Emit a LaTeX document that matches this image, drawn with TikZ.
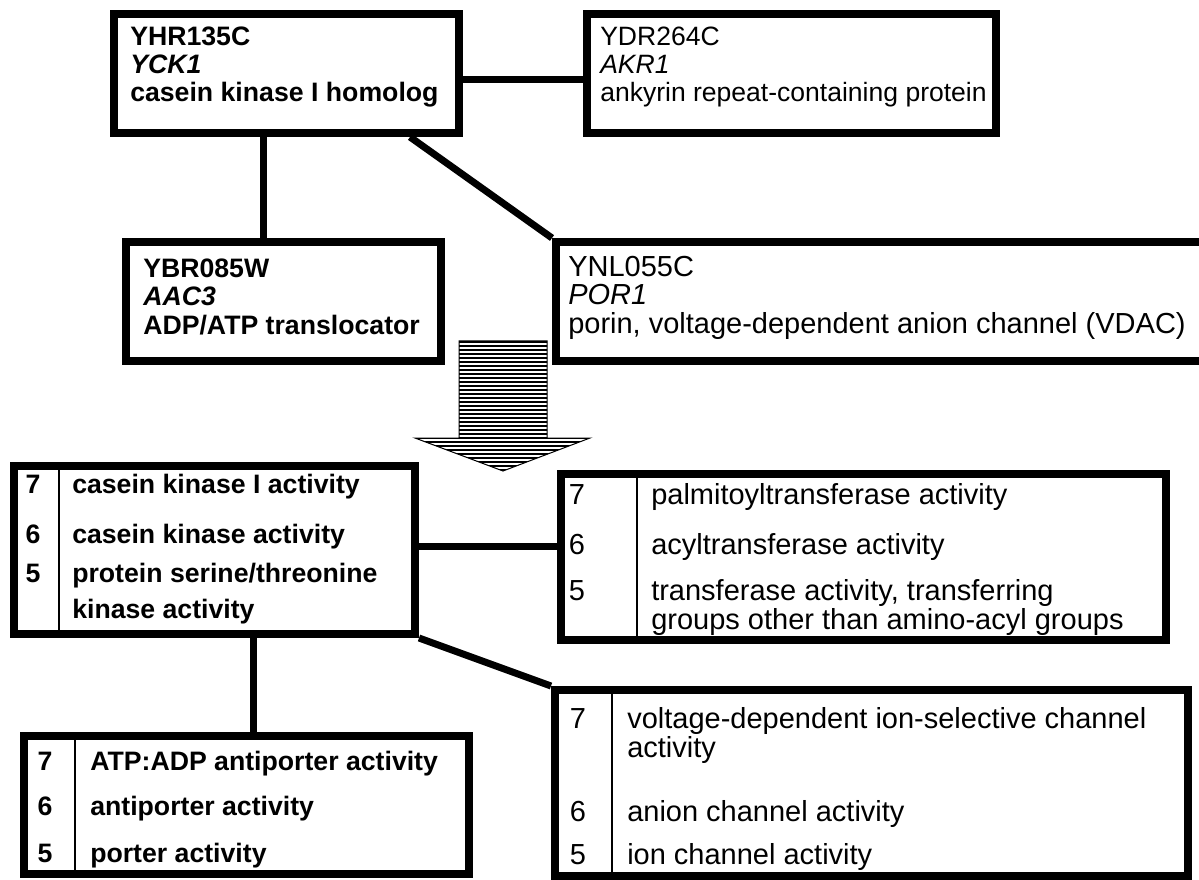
\documentclass[tikz,border=0pt]{standalone}
\usepackage{fontspec}
\setmainfont{Liberation Sans}
\usetikzlibrary{fit}
\newcommand\bt{\fontsize{20}{24}\selectfont\bfseries}
\newcommand\rb{\fontsize{19.9}{24}\selectfont}
\newcommand\rt{\fontsize{21.75}{24}\selectfont}
\begin{document}
\begin{tikzpicture}[x=0.75pt,y=-0.75pt,
  gbox/.style={draw, line width=6pt, inner sep=0pt},
  conn/.style={line width=5.25pt},
  divl/.style={line width=1pt},
  lbl/.style={anchor=base west, inner sep=0pt},
  num/.style={anchor=base, inner sep=0pt}]
\path[use as bounding box, clip] (0,0) rectangle (1199,880);
\fill[white] (0,0) rectangle (1199,880);

% gene boxes
\node[gbox, fit={(114,14) (459,133)}] (A) {};
\node[gbox, fit={(587,14) (996,133)}] (B) {};
\node[gbox, fit={(126,242) (441,361)}] (C) {};
\node[gbox, fit={(556,242) (1215,361)}] (D) {};

% GO boxes
\node[gbox, fit={(14,466) (415,634)}] (E) {};
\node[gbox, fit={(561,474) (1166,640)}] (F) {};
\node[gbox, fit={(24,736) (469,874)}] (G) {};
\node[gbox, fit={(555,690) (1188,876)}] (H) {};

% connectors
\coordinate (abY) at (0,80);
\coordinate (acX) at (263,0);
\coordinate (adS) at (410,0);
\coordinate (efY) at (0,546);
\coordinate (egX) at (253,0);
\draw[conn] (A.east |- abY) -- (B.west |- abY);
\draw[conn] (A.south -| acX) -- (C.north -| acX);
\draw[conn] (A.south -| adS) -- (D.north west);
\draw[conn] (E.east |- efY) -- (F.west |- efY);
\draw[conn] (E.south -| egX) -- (G.north -| egX);
\draw[conn] (E.south east) -- (H.north west);

% dividers
\coordinate (eDiv) at (59,0);
\coordinate (fDiv) at (637,0);
\coordinate (gDiv) at (75,0);
\coordinate (hDiv) at (612,0);
\draw[divl] (E.north -| eDiv) -- (E.south -| eDiv);
\draw[divl] (F.north -| fDiv) -- (F.south -| fDiv);
\draw[divl] (G.north -| gDiv) -- (G.south -| gDiv);
\draw[divl] (H.north -| hDiv) -- (H.south -| hDiv);

% striped arrow
\begin{scope}
\clip (459,341) -- (547,341) -- (547,438) -- (590,438) -- (503,471) -- (415,438) -- (459,438) -- cycle;
\foreach \y in {342,346,...,470} \draw[line width=1.5pt] (400,\y) -- (600,\y);
\end{scope}
\draw[line width=0.75pt] (459,341) -- (547,341) -- (547,438) -- (590,438) -- (503,471) -- (415,438) -- (459,438) -- cycle;

% texts A
\node[lbl] (A1) at (130,46) {\bt YHR135C};
\node[lbl] (A2) at (130,74) {\bt\itshape YCK1};
\node[lbl] (A3) at (130,102) {\bt casein kinase I homolog};
% B
\node[lbl] (B1) at (600,46) {\rb YDR264C};
\node[lbl] (B2) at (600,74) {\rb\itshape AKR1};
\node[lbl] (B3) at (600,102) {\rb ankyrin repeat-containing protein};
% C
\node[lbl] (C1) at (143,278) {\bt YBR085W};
\node[lbl] (C2) at (143,306) {\bt\itshape AAC3};
\node[lbl] (C3) at (143,335) {\bt ADP/ATP translocator};
% D
\node[lbl] (D1) at (568,277) {\rt YNL055C};
\node[lbl] (D2) at (568,305) {\rt\itshape POR1};
\node[lbl] (D3) at (568,334) {\rt porin, voltage-dependent anion channel (VDAC)};

% E
\node[num] (E7) at (33,493) {\bt 7};
\node[lbl] (E7t) at (72,493) {\bt casein kinase I activity};
\node[num] (E6) at (33,543) {\bt 6};
\node[lbl] (E6t) at (72,543) {\bt casein kinase activity};
\node[num] (E5) at (33,582) {\bt 5};
\node[lbl] (E5t) at (72,582) {\bt protein serine/threonine};
\node[lbl] (E5u) at (72,618) {\bt kinase activity};
% F
\node[num] (F7) at (577,504) {\rt 7};
\node[lbl] (F7t) at (651,504) {\rt palmitoyltransferase activity};
\node[num] (F6) at (577,554) {\rt 6};
\node[lbl] (F6t) at (651,554) {\rt acyltransferase activity};
\node[num] (F5) at (577,600) {\rt 5};
\node[lbl] (F5t) at (651,600) {\rt transferase activity, transferring};
\node[lbl] (F5u) at (651,629) {\rt groups other than amino-acyl groups};
% G
\node[num] (G7) at (45,770) {\bt 7};
\node[lbl] (G7t) at (90,770) {\bt ATP:ADP antiporter activity};
\node[num] (G6) at (45,815) {\bt 6};
\node[lbl] (G6t) at (90,815) {\bt antiporter activity};
\node[num] (G5) at (45,862) {\bt 5};
\node[lbl] (G5t) at (90,862) {\bt porter activity};
% H
\node[num] (H7) at (578,728) {\rt 7};
\node[lbl] (H7t) at (627,728) {\rt voltage-dependent ion-selective channel};
\node[lbl] (H7u) at (627,757) {\rt activity};
\node[num] (H6) at (578,821) {\rt 6};
\node[lbl] (H6t) at (627,821) {\rt anion channel activity};
\node[num] (H5) at (578,864) {\rt 5};
\node[lbl] (H5t) at (627,864) {\rt ion channel activity};
\end{tikzpicture}
\end{document}
